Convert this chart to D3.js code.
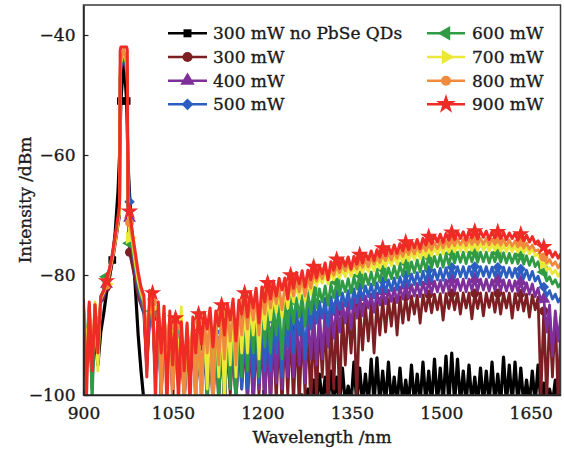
<!DOCTYPE html>
<html>
<head>
<meta charset="utf-8">
<script src="https://cdn.jsdelivr.net/npm/d3@7"></script>
<style>
  html, body { margin: 0; padding: 0; background: #ffffff; }
  svg { display: block; font-family: "DejaVu Serif", serif; }
</style>
</head>
<body>
<svg id="chart" width="564" height="452"></svg>
<script>
// Spectra sampled on a uniform wavelength grid (nm), plus a few extra samples across the pump peak.
const wavelengthStart = 900;
const wavelengthStep = 4.825;
const peakNm = [960.5, 961.5, 973.5, 974.5];

const xTicks = [900, 1050, 1200, 1350, 1500, 1650];
const yTicks = [-100, -80, -60, -40];

const seriesLabels = ["300 mW no PbSe QDs", "300 mW", "400 mW", "500 mW",
                      "600 mW", "700 mW", "800 mW", "900 mW"];

// Intensity (dBm) on the grid, 167 samples per spectrum
const noQds300 = [
  -88, -93, -89, -96, -90, -95, -89.5, -86.5,
  -83, -80.5, -77.5, -73, -66, -51, -44, -51,
  -66.5, -74.5, -82, -90, -96, -101, -103, -102,
  -102, -103, -101.5, -103, -102, -103, -101.5, -103,
  -102, -103, -102.5, -103, -101.5, -103, -102, -103,
  -102.5, -103, -102, -103, -101.5, -103, -102, -103,
  -102, -103, -101.5, -103, -102.5, -103, -102, -103,
  -102, -103, -102, -103, -101.5, -103, -102, -103,
  -102.5, -103, -102, -103, -101.5, -103, -102, -102.5,
  -102, -101.5, -101, -101.5, -100, -101.5, -99, -101.5,
  -97.5, -101.5, -96.5, -101.5, -97, -101.5, -96, -101.5,
  -97, -101.5, -95.5, -101.5, -98.5, -101.5, -94.5, -101.5,
  -95.5, -101.5, -96.5, -101.5, -94, -101.5, -93.8, -101.5,
  -96, -101.5, -94.5, -101.5, -97, -101.5, -95.5, -101.5,
  -97.5, -101.5, -95, -101.5, -96.5, -101.5, -94.5, -101.5,
  -96, -101.5, -94, -101.5, -95.5, -101.5, -93.5, -101.5,
  -93, -101.5, -94, -101.5, -96, -101.5, -95, -101.5,
  -97, -101.5, -95.5, -101.5, -96, -101.5, -94.5, -101.5,
  -96.5, -101.5, -93.7, -101.5, -95, -101.5, -94.5, -101.5,
  -95.5, -101.5, -97.5, -101.5, -96, -101.5, -95, -101.5,
  -98, -101.5, -99, -101.5, -97.5, -101.5, -98
];
const p300 = [
  -85.5, -96, -85.5, -99, -85, -93, -84.5, -84,
  -82, -80.5, -78, -75, -71.8, -45.8, -44, -46.2,
  -76.2, -78.5, -81, -83.5, -85, -86.5, -96, -85,
  -86, -97, -85, -100, -87.5, -94, -88, -101,
  -90, -99, -90.5, -102, -91, -98, -91, -101,
  -92, -101, -91.8, -99, -91.7, -102, -91.6, -100,
  -91.5, -102, -91.4, -100, -91.3, -101.5, -91.2, -99,
  -91, -101, -90.8, -102, -90.5, -100, -90.3, -102,
  -90, -102, -89.8, -101, -89.5, -102, -89.3, -100,
  -89, -101.5, -88.7, -102, -88.3, -100, -88, -102,
  -87.6, -101, -87.3, -97, -86.8, -102, -86.5, -99,
  -86.2, -101, -86, -95, -85.7, -93, -85.5, -101,
  -85.2, -92.5, -85, -91, -84.7, -93, -84.5, -90,
  -84.2, -89.5, -84, -88.5, -83.8, -90, -83.6, -88,
  -83.6, -87.5, -83.5, -86.5, -83.4, -88, -83.3, -86,
  -83.2, -86.3, -83.2, -85.8, -83.1, -87.5, -83.1, -85.6,
  -83, -85.8, -83, -86.5, -83, -85.5, -83, -87.3,
  -83, -85.6, -83, -86.8, -83, -85.4, -83, -86.2,
  -83, -86.5, -83, -85.5, -83, -87.2, -83.1, -85.8,
  -83.1, -86, -83.2, -87, -83.3, -85.8, -83.7, -100,
  -86, -101, -86.5, -97, -86.8, -101, -87
];
const p400 = [
  -86, -95, -85.8, -98, -85.5, -92, -84.5, -83.5,
  -81.5, -79.8, -77.3, -74.5, -71.2, -45.3, -43.6, -45.8,
  -70.5, -76, -79.5, -82.5, -84.5, -86, -95, -88,
  -87, -97, -87.5, -101, -88, -96, -88.5, -100,
  -90, -98, -90.2, -101, -90.5, -97, -90.2, -100,
  -91, -99, -90.8, -102, -90.7, -98, -90.6, -101,
  -90.5, -102, -90.4, -99, -90.3, -101.5, -90.2, -98,
  -90, -101, -89.8, -102, -89.5, -99, -89.3, -102,
  -89, -101.5, -88.8, -98, -88.4, -99, -88.1, -97,
  -87.8, -97, -87.5, -95, -87.1, -98, -86.8, -94,
  -86.4, -95, -86, -94, -85.6, -92, -85.3, -90.5,
  -84.9, -89.5, -84.6, -88, -84.3, -89, -84, -87.2,
  -83.7, -86.8, -83.5, -85.5, -83.2, -86.2, -83, -85,
  -82.7, -84.8, -82.5, -84.4, -82.2, -84.6, -82, -84,
  -81.8, -83.8, -81.6, -83.5, -81.4, -83.6, -81.2, -83.1,
  -81.1, -83, -81, -82.8, -80.9, -82.9, -80.8, -82.6,
  -80.8, -82.7, -80.7, -82.6, -80.7, -82.8, -80.7, -82.5,
  -80.7, -82.6, -80.7, -82.5, -80.7, -82.7, -80.8, -82.5,
  -80.8, -82.6, -80.8, -82.7, -80.9, -82.7, -81, -82.8,
  -81.1, -83, -81.3, -83.2, -81.5, -83.6, -82.2, -84.5,
  -84, -89.5, -85, -93.5, -86, -91, -86.5
];
const p500 = [
  -86, -94, -85.5, -99, -85, -93, -84, -83,
  -81, -79.5, -77, -74.2, -70.9, -45, -43.3, -45.5,
  -67.8, -75, -79, -82, -84, -85.5, -94, -87,
  -86.5, -96, -87, -100, -87.5, -95, -88, -99,
  -89.5, -97, -89.8, -101, -90, -96, -89.5, -99,
  -90, -99, -89.8, -97, -89.7, -101, -89.6, -98,
  -89.5, -101, -89.4, -98, -89.3, -102, -89.1, -99,
  -89, -99, -88.8, -97, -88.3, -98, -88, -96,
  -87.6, -96, -87.3, -93, -86.9, -97, -86.6, -92,
  -86.2, -93, -85.9, -90, -85.5, -94, -85.2, -89,
  -84.7, -88, -84.4, -87.2, -83.9, -88.5, -83.6, -86.4,
  -83.2, -85.8, -83, -85.2, -82.6, -85.6, -82.3, -84.6,
  -82, -84, -81.8, -83.6, -81.5, -83.8, -81.3, -83,
  -81, -82.8, -80.8, -82.6, -80.5, -82.5, -80.3, -82,
  -80, -81.8, -79.8, -81.6, -79.6, -81.6, -79.4, -81.2,
  -79.2, -81, -79.1, -80.8, -78.9, -80.9, -78.8, -80.5,
  -78.7, -80.4, -78.6, -80.3, -78.6, -80.5, -78.6, -80.2,
  -78.6, -80.3, -78.6, -80.2, -78.6, -80.4, -78.7, -80.2,
  -78.7, -80.3, -78.7, -80.4, -78.8, -80.4, -78.9, -80.5,
  -79, -80.6, -79.2, -80.8, -79.4, -81, -80.2, -81.6,
  -82, -83.5, -82.6, -84, -83.2, -84.5, -83.7
];
const p600 = [
  -85.5, -92, -84.8, -101.5, -85, -94, -83.5, -82.5,
  -80.3, -79, -76.8, -74, -71, -44.8, -43, -45.2,
  -74.7, -75.5, -78.5, -81.5, -83.5, -85, -93, -86,
  -86, -95, -86.8, -99, -86.5, -93, -87, -97,
  -88.5, -96, -88.8, -99, -89, -94, -88.5, -100,
  -89, -98, -88.7, -101, -88.5, -96, -88.3, -102,
  -88, -102, -87.8, -99, -87.5, -101.5, -87.3, -97,
  -87, -96, -86.8, -93, -86.3, -97, -86, -92,
  -85.5, -93, -85.2, -90, -84.7, -94, -84.4, -89,
  -84, -88, -83.8, -87, -83.4, -88.5, -83, -86.5,
  -82.6, -85.5, -82.3, -84.5, -81.8, -85, -81.5, -83.8,
  -81.2, -83.3, -81, -82.8, -80.6, -83, -80.3, -82.3,
  -80, -82, -79.8, -81.6, -79.5, -81.7, -79.3, -81,
  -79, -80.8, -78.8, -80.6, -78.5, -80.5, -78.3, -80,
  -78, -79.8, -77.8, -79.6, -77.5, -79.5, -77.3, -79.1,
  -77, -78.8, -76.9, -78.6, -76.6, -78.7, -76.5, -78.3,
  -76.3, -78, -76.2, -77.9, -76.2, -78.1, -76.2, -77.8,
  -76.2, -77.9, -76.2, -77.8, -76.2, -78, -76.3, -77.8,
  -76.3, -77.9, -76.3, -78, -76.4, -78, -76.5, -78.1,
  -76.6, -78.2, -76.8, -78.4, -77, -78.6, -77.8, -79.5,
  -79.5, -81, -80.3, -81.5, -80.8, -82, -81.3
];
const p700 = [
  -85, -93, -85.5, -94, -84.5, -96, -84, -83,
  -81.5, -79.6, -77.2, -74.5, -71.2, -44.5, -42.6, -44.8,
  -73.8, -74.5, -78, -81, -83, -84.5, -92, -85,
  -85.5, -96, -86, -93, -85.2, -99, -86.5, -91,
  -88, -95, -85.3, -101, -88.5, -97, -87.5, -102,
  -88, -102, -87.5, -99, -87.2, -101, -87.3, -97,
  -87, -101, -86.6, -95, -86.2, -97, -85.8, -93,
  -85.5, -93, -85.1, -90, -84.5, -94, -84.2, -89,
  -83.6, -87.5, -83.3, -86.2, -82.7, -87, -82.4, -85.5,
  -82, -84.5, -81.7, -84, -81.2, -84.3, -81, -83.2,
  -80.5, -81.8, -80.2, -81.4, -79.8, -81.5, -79.6, -80.8,
  -79.3, -80.5, -79.1, -80.3, -78.9, -80.2, -78.7, -79.8,
  -78.5, -79.6, -78.3, -79.4, -78, -79.3, -77.8, -78.9,
  -77.5, -78.6, -77.3, -78.4, -77, -78.2, -76.8, -77.9,
  -76.5, -77.6, -76.3, -77.4, -76.1, -77.3, -75.9, -77,
  -75.7, -76.8, -75.5, -76.6, -75.3, -76.5, -75.1, -76.2,
  -75, -76.1, -74.9, -76, -74.8, -76.1, -74.8, -75.9,
  -74.8, -75.9, -74.8, -75.9, -74.8, -76, -74.9, -75.9,
  -74.9, -76, -75, -76.1, -75, -76.1, -75.1, -76.2,
  -75.2, -76.3, -75.4, -76.5, -75.6, -76.8, -76.5, -77.8,
  -78, -79.2, -78.8, -79.8, -79.2, -80.2, -79.5
];
const p800 = [
  -84.5, -97, -85, -95, -84.8, -90, -83.8, -82.9,
  -81.7, -79.5, -77, -74, -70.8, -44.2, -42.4, -44.5,
  -71.3, -74, -77, -80, -82.5, -84, -90, -84.5,
  -84.5, -95, -85.5, -101, -86.5, -92, -87, -102,
  -88.5, -97, -88.5, -101, -88.5, -94, -88, -102,
  -87.5, -101, -87, -93, -86.5, -102, -86.8, -95,
  -86.2, -94, -85.8, -91, -85.2, -95, -85.3, -90,
  -84.3, -89, -84, -87.5, -83.5, -90, -83.2, -86.5,
  -82.6, -85.5, -82.3, -84.8, -82, -85.8, -81.8, -84,
  -81.3, -83.5, -81, -82.8, -80.6, -83.5, -80.4, -82.2,
  -79.8, -81, -79.5, -80.6, -79.1, -80.4, -78.9, -80,
  -78.5, -79.6, -78.3, -79.3, -78.1, -79.2, -78, -79,
  -77.7, -78.7, -77.5, -78.6, -77.1, -78.2, -76.9, -77.9,
  -76.6, -77.6, -76.4, -77.5, -76.1, -77.2, -75.9, -76.9,
  -75.6, -76.6, -75.4, -76.5, -75.2, -76.2, -75, -76,
  -74.8, -75.8, -74.6, -75.6, -74.4, -75.5, -74.3, -75.3,
  -74.1, -75.1, -74, -75, -74, -75.1, -73.9, -74.9,
  -73.9, -74.9, -73.9, -74.9, -73.9, -75, -74, -74.9,
  -74, -75, -74.1, -75.1, -74.2, -75.2, -74.3, -75.3,
  -74.5, -75.5, -74.7, -75.7, -75, -76, -75.8, -76.8,
  -77, -78, -77.4, -78.4, -77.8, -78.8, -78
];
const p900 = [
  -84.2, -101, -84.5, -96, -85, -93, -83.6, -82.6,
  -81, -79, -76.5, -73.5, -70.2, -42, -42, -42,
  -69.4, -73, -76.2, -79.5, -82, -83.4, -97, -82.6,
  -83, -101, -84.5, -93, -85.2, -102, -86, -95,
  -87.2, -101, -87.8, -96, -88, -102, -87, -93,
  -86.5, -91.5, -86.2, -89, -85.5, -92, -86, -88.5,
  -85, -90, -84.8, -87.5, -84, -91, -84.2, -86.5,
  -83, -87, -82.8, -85.5, -82.2, -88, -82, -84.5,
  -81.3, -84, -81, -83.5, -80.6, -82.5, -80.5, -84,
  -80, -82.2, -79.6, -81.5, -79.3, -82, -79.2, -80.8,
  -78.6, -80.5, -78.4, -79.8, -78, -80.8, -77.8, -79.2,
  -77.4, -78.9, -77.2, -78.5, -77, -79, -76.9, -78.2,
  -76.6, -78, -76.4, -77.5, -76, -77.6, -75.8, -77,
  -75.5, -76.8, -75.3, -76.5, -75, -76.4, -74.8, -76,
  -74.5, -75.8, -74.3, -75.5, -74.1, -75.6, -73.9, -75,
  -73.6, -74.8, -73.4, -74.5, -73.2, -74.6, -73.1, -74.2,
  -72.9, -74.1, -72.8, -73.9, -72.8, -74.2, -72.7, -73.8,
  -72.7, -74, -72.7, -73.7, -72.7, -74.1, -72.8, -73.8,
  -72.8, -73.9, -72.9, -74.1, -73, -73.9, -73.1, -74.2,
  -73.2, -74.3, -73.4, -74.5, -73.6, -74.8, -74.3, -75.2,
  -75.3, -76.6, -75.9, -77, -76.2, -77.2, -76.4
];

// Extra samples at peakNm across the pump line
const noQds300Peak = [-60, -56, -56, -61];
const p300Peak = [-70.2, -47.8, -48, -70];
const p400Peak = [-69.9, -47.3, -47.6, -65];
const p500Peak = [-69.6, -47, -47.3, -62];
const p600Peak = [-69.8, -46.5, -47, -68];
const p700Peak = [-69.5, -46, -46.5, -67];
const p800Peak = [-69, -45.5, -46, -66];
const p900Peak = [-68.2, -42.6, -42.6, -68.5];

const seriesValues = [noQds300, p300, p400, p500, p600, p700, p800, p900];
const seriesPeaks = [noQds300Peak, p300Peak, p400Peak, p500Peak, p600Peak, p700Peak, p800Peak, p900Peak];

// Styling
const colors = ["#000000", "#7c1e22", "#7e2f9a", "#2b5ec0", "#2f9b45", "#ece83a", "#f08b3e", "#ee2b25"];
const symbolTypes = [d3.symbolSquare, d3.symbolCircle, d3.symbolTriangle, d3.symbolSquare,
                     d3.symbolTriangle, d3.symbolTriangle, d3.symbolCircle, d3.symbolStar];
const symbolRotate = [0, 0, 0, 45, -90, 90, 0, 0];
const symbolSizes = [60, 64, 72, 56, 72, 72, 64, 95];
const lineWidths = [3.2, 2.8, 2.8, 2.8, 2.8, 2.8, 2.8, 3];

const svg = d3.select("#chart");
const plot = { left: 83.5, right: 560.5, top: 5, bottom: 395 };

const x = d3.scaleLinear().domain([900, 1700]).range([plot.left, plot.right]);
const y = d3.scaleLinear().domain([-100, -35]).range([plot.bottom, plot.top]);

svg.append("defs").append("clipPath").attr("id", "plotClip")
  .append("rect")
  .attr("x", plot.left).attr("y", plot.top)
  .attr("width", plot.right - plot.left).attr("height", plot.bottom - plot.top);

function buildPoints(values, peakValues) {
  const pts = values.map((v, i) => ({ nm: wavelengthStart + i * wavelengthStep, v, i }));
  peakNm.forEach((nm, j) => pts.push({ nm, v: peakValues[j], i: -1 }));
  pts.sort((a, b) => a.nm - b.nm);
  return pts;
}

const line = d3.line().x(d => x(d.nm)).y(d => y(d.v));
const dataLayer = svg.append("g").attr("clip-path", "url(#plotClip)");

function symbolPath(k) {
  return d3.symbol().type(symbolTypes[k]).size(symbolSizes[k])();
}

seriesValues.forEach((values, k) => {
  const pts = buildPoints(values, seriesPeaks[k]);
  const g = dataLayer.append("g");
  g.append("path")
    .datum(pts)
    .attr("d", line)
    .attr("fill", "none")
    .attr("stroke", colors[k])
    .attr("stroke-width", lineWidths[k])
    .attr("stroke-linejoin", "round")
    .attr("stroke-linecap", "round");
  const marks = k === 0
    ? pts.filter(d => d.i === 10 || d.i === 13 || d.i === 15)
    : pts.filter(d => d.i > 0 && d.i % 8 === 0);
  g.selectAll("path.mark")
    .data(marks)
    .join("path")
    .attr("class", "mark")
    .attr("d", symbolPath(k))
    .attr("transform", d => `translate(${x(d.nm)},${y(d.v)}) rotate(${symbolRotate[k]})`)
    .attr("fill", colors[k]);
});

// Frame and axes
svg.append("rect")
  .attr("x", plot.left).attr("y", plot.top)
  .attr("width", plot.right - plot.left).attr("height", plot.bottom - plot.top)
  .attr("fill", "none").attr("stroke", "#3a3a3a").attr("stroke-width", 1.5);

const yAxis = svg.append("g")
  .attr("transform", `translate(${plot.left},0)`)
  .call(d3.axisLeft(y).tickValues(yTicks).tickSizeInner(-5).tickSizeOuter(0).tickPadding(8));
const xAxis = svg.append("g")
  .attr("transform", `translate(0,${plot.bottom})`)
  .call(d3.axisBottom(x).tickValues(xTicks).tickFormat(d3.format("d"))
    .tickSizeInner(-5).tickSizeOuter(0).tickPadding(12));

const inkStyle = sel => sel
  .attr("fill", "#1a1a1a")
  .attr("stroke", "#1a1a1a")
  .attr("stroke-width", 0.35)
  .style("font-family", "'DejaVu Serif', serif")
  .style("font-size", "17px");

[yAxis, xAxis].forEach(a => {
  a.select(".domain").attr("stroke", "#222").attr("stroke-width", 1.5);
  a.selectAll(".tick line").attr("stroke", "#222").attr("stroke-width", 1.2);
  a.selectAll(".tick text").call(inkStyle);
});

svg.append("text")
  .attr("x", (plot.left + plot.right) / 2)
  .attr("y", 443)
  .attr("text-anchor", "middle")
  .call(inkStyle)
  .text("Wavelength /nm");

svg.append("text")
  .attr("transform", `translate(31,${(plot.top + plot.bottom) / 2}) rotate(-90)`)
  .attr("text-anchor", "middle")
  .call(inkStyle)
  .text("Intensity /dBm");

// Legend: two columns of four entries
const legendCols = [{ lineX0: 168, lineX1: 207, textX: 213 }, { lineX0: 427, lineX1: 465, textX: 472 }];
const legendRowY = [33.3, 57, 80.7, 104.3];
const legendSymbolSizes = [64, 80, 90, 70, 90, 90, 80, 120];
const legend = svg.append("g");
seriesLabels.forEach((label, k) => {
  const col = legendCols[Math.floor(k / 4)];
  const ry = legendRowY[k % 4];
  const item = legend.append("g");
  item.append("line")
    .attr("x1", col.lineX0).attr("x2", col.lineX1)
    .attr("y1", ry).attr("y2", ry)
    .attr("stroke", colors[k]).attr("stroke-width", 2.4);
  item.append("path")
    .attr("d", d3.symbol().type(symbolTypes[k]).size(legendSymbolSizes[k])())
    .attr("transform", `translate(${(col.lineX0 + col.lineX1) / 2},${ry}) rotate(${symbolRotate[k]})`)
    .attr("fill", colors[k]);
  item.append("text")
    .attr("x", col.textX).attr("y", ry + 6)
    .call(inkStyle)
    .text(label);
});
</script>
</body>
</html>
